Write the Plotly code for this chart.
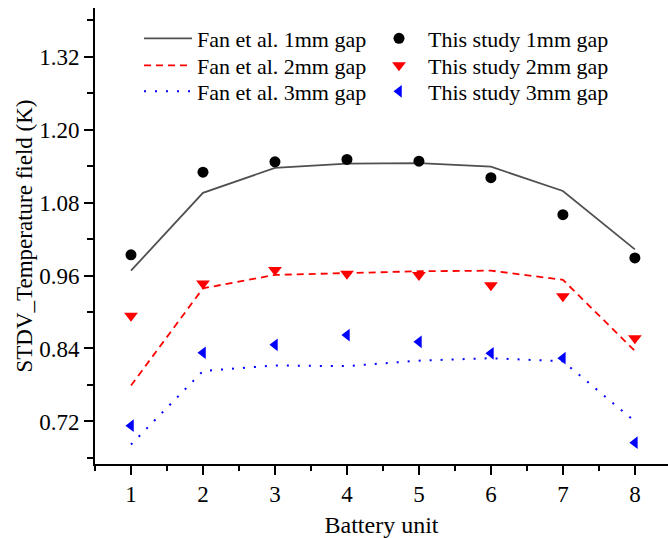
import plotly.graph_objects as go

units = [1, 2, 3, 4, 5, 6, 7, 8]

fan_1mm = [0.968, 1.096, 1.137, 1.144, 1.145, 1.139, 1.099, 1.003]
fan_2mm = [0.779, 0.939, 0.961, 0.964, 0.967, 0.968, 0.953, 0.836]
fan_3mm = [0.682, 0.803, 0.812, 0.811, 0.820, 0.824, 0.819, 0.720]

this_1mm = [0.994, 1.130, 1.147, 1.151, 1.148, 1.121, 1.060, 0.989]
this_2mm = [0.894, 0.947, 0.969, 0.963, 0.961, 0.944, 0.926, 0.857]
this_3mm = [0.713, 0.833, 0.846, 0.862, 0.851, 0.832, 0.824, 0.685]

y_ticks = [0.72, 0.84, 0.96, 1.08, 1.20, 1.32]
y_tick_labels = ["0.72", "0.84", "0.96", "1.08", "1.20", "1.32"]

FONT = "Liberation Serif"

fig = go.Figure()

fig.add_trace(go.Scatter(x=units, y=fan_1mm, mode="lines", name="Fan et al. 1mm gap", legend="legend",
                         line=dict(color="#505050", width=1.8)))
fig.add_trace(go.Scatter(x=units, y=this_1mm, mode="markers", name="This study 1mm gap", legend="legend2",
                         marker=dict(symbol="circle", color="black", size=11)))
fig.add_trace(go.Scatter(x=units, y=fan_2mm, mode="lines", name="Fan et al. 2mm gap", legend="legend3",
                         line=dict(color="#ff0000", width=1.8, dash="7px,5px")))
fig.add_trace(go.Scatter(x=units, y=this_2mm, mode="markers", name="This study 2mm gap", legend="legend4",
                         marker=dict(symbol="triangle-down", color="#ff0000", size=12)))
fig.add_trace(go.Scatter(x=units, y=fan_3mm, mode="lines", name="Fan et al. 3mm gap", legend="legend5",
                         line=dict(color="#0000ff", width=2, dash="2px,9px")))
fig.add_trace(go.Scatter(x=units, y=this_3mm, mode="markers", name="This study 3mm gap", legend="legend6",
                         marker=dict(symbol="triangle-left", color="#0000ff", size=11)))

axis_common = dict(
    showgrid=False, zeroline=False, showline=True, linecolor="black", linewidth=1.6,
    ticks="outside", ticklen=9, tickwidth=1.5, tickcolor="black",
    tickfont=dict(family=FONT, size=23, color="black"),
    mirror=False,
)

W, H = 668, 538
ML, MR, MT, MB = 95, 0, 8, 74


def legend_at(left_px, row_center_px):
    return dict(
        orientation="v",
        x=(left_px - ML) / (W - ML - MR), xanchor="left",
        y=(H - MB - row_center_px) / (H - MT - MB), yanchor="middle",
        font=dict(family=FONT, size=22, color="black"),
        bgcolor="rgba(0,0,0,0)",
        itemwidth=48,
    )


COL1, COL2 = 139, 370
ROWS = [38.5, 65.5, 91.5]

fig.update_layout(
    width=W, height=H,
    margin=dict(l=ML, r=MR, t=MT, b=MB),
    paper_bgcolor="white", plot_bgcolor="white",
    font=dict(family=FONT, color="black"),
    xaxis=dict(
        range=[0.5, 8.46], tickmode="array", tickvals=units, ticktext=[str(u) for u in units],
        minor=dict(ticks="outside", ticklen=5, tickwidth=1.5, tickcolor="black", dtick=0.5, tick0=0.5),
        title=dict(text="Battery unit", font=dict(family=FONT, size=24, color="black"), standoff=15),
        **axis_common,
    ),
    yaxis=dict(
        range=[0.65, 1.40], tickmode="array", tickvals=y_ticks, ticktext=y_tick_labels,
        minor=dict(ticks="outside", ticklen=6, tickwidth=1.5, tickcolor="black", dtick=0.06, tick0=0.66),
        title=dict(text="STDV_Temperature field (K)", font=dict(family=FONT, size=23, color="black"), standoff=0),
        **axis_common,
    ),
    showlegend=True,
    legend=legend_at(COL1, ROWS[0]),
    legend2=legend_at(COL2, ROWS[0]),
    legend3=legend_at(COL1, ROWS[1]),
    legend4=legend_at(COL2, ROWS[1]),
    legend5=legend_at(COL1, ROWS[2]),
    legend6=legend_at(COL2, ROWS[2]),
)

fig.write_html("out.html")
